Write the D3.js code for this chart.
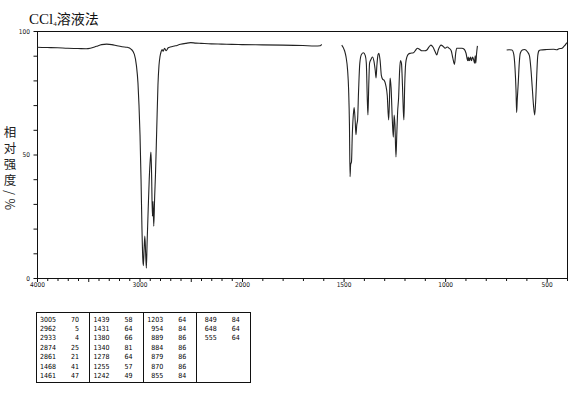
<!DOCTYPE html>
<html><head><meta charset="utf-8">
<script src="https://cdn.jsdelivr.net/npm/d3@7"></script>
<style>body{margin:0;background:#fff}svg{display:block}</style>
</head><body>
<svg id="c" width="570" height="394"></svg>
<script>
// ---- data ----
const seg1Wn = [4000,3900,3800,3700,3600,3520,3480,3420,3370,3320,3270,3220,3170,3120,3080,3050,3030,3015,3005,2995,2985,2976,2968,2962,2955,2948,2940,2933,2926,2915,2905,2895,2888,2882,2874,2868,2861,2852,2844,2832,2820,2810,2800,2790,2780,2770,2755,2740,2720,2700,2650,2600,2550,2500,2450,2400,2300,2200,2100,2000,1900,1800,1700,1640,1615,1608];
const seg1T  = [93.4,93.3,93.2,93.0,92.9,92.8,93.0,93.8,94.5,94.7,94.5,94.0,93.6,93.4,92.6,90.5,86,79,70,58,40,20,8,5,12,17,10,4,14,28,40,48,51,42,25,31,21,33,42,60,78,86,89.6,91.5,92.5,91.8,93,92,93.2,93.5,94,94.6,95,95.3,95.1,95,94.8,94.7,94.6,94.5,94.4,94.3,94.1,93.9,94,94.6];
const seg2Wn = [1509,1495,1488,1480,1475,1471,1468,1465,1461,1457,1452,1448,1443,1439,1435,1431,1426,1420,1412,1402,1393,1388,1383,1380,1376,1372,1365,1358,1350,1344,1340,1336,1330,1326,1320,1314,1308,1300,1292,1285,1278,1274,1271,1266,1260,1255,1251,1247,1242,1238,1234,1229,1224,1220,1215,1210,1206,1203,1199,1194,1188,1180,1170,1156,1145,1136,1125,1115,1100,1090,1080,1070,1060,1049,1041,1033,1020,1010,1000,990,980,970,962,954,948,943,930,918,905,897,889,886,884,881,879,875,870,865,860,855,852,849,845,841];
const seg2T  = [94.3,92,89.6,84,76,62,41,46,47,58,66,69,64,58,62,64,76,87,90.5,91.2,90,87,72,66,78,87,88.5,89.5,87.6,84,81,86,90.5,91,88,82,80.5,80,78,74,64,72,81,77,64,57,66,62,49,58,67,73,84,88,87,78,68,64,78,87,89.5,90.7,91,91.2,92.3,93,92.5,92,92,92.3,93.5,94.3,93.5,91.6,90.3,92.5,94.3,93.8,93,93.5,93,92,89,86.5,91,93,93,93,92.5,91,88,89.5,88,89,88,89.5,88,89.5,88.5,87,90,87,91,94];
const seg3Wn = [697,685,671,662,656,651,648,645,640,635,630,620,610,595,585,578,571,565,559,554,549,544,538,530,500,466,450,440,425,415,409,403,400];
const seg3T  = [92.3,92.4,92.3,90.5,85,76,67,72,79,87,91,92.3,92.5,91.6,90,85,77,70,66,72,82,90,92,92.3,92.5,92.6,92.4,92.8,93,93.8,94.3,95,95.3];

const xLabelTicks = [4000,3000,2000,1500,1000,500];
const yLabelTicks = [0,50,100];

const tableWn  = [3005,2962,2933,2874,2861,1468,1461, 1439,1431,1380,1340,1278,1255,1242, 1203,954,889,884,879,870,855, 849,648,555];
const tableInt = [70,5,4,25,21,41,47, 58,64,66,81,64,57,49, 64,84,86,86,86,86,84, 84,64,64];

// ---- drawing ----
const svg = d3.select("#c");
const x = d3.scaleLinear().domain([4000,2000,400]).range([37,242,567]);
const y = d3.scaleLinear().domain([0,100]).range([278,31]);
const numFont = "'Liberation Sans Narrow','DejaVu Sans Condensed','Liberation Sans',sans-serif";

// title
const title = svg.append("text").attr("x",29).attr("y",24)
  .attr("font-family","'Liberation Serif','Noto Sans CJK SC',serif").attr("font-size",15).attr("fill","#111");
title.append("tspan").text("CCl");
title.append("tspan").attr("font-size",7).attr("dy",1.5).text("4");
title.append("tspan").attr("font-family","'Noto Sans CJK SC',sans-serif").attr("font-size",14).attr("dy",-1.5).text("溶液法");

// y label (vertical writing)
svg.append("text").attr("x",10).attr("y",126)
  .style("writing-mode","vertical-rl").style("letter-spacing","3.5px")
  .attr("font-family","'Noto Sans CJK SC',sans-serif").attr("font-size",12.5).attr("fill","#222")
  .text("相对强度/%");

// frame
svg.append("rect").attr("x",x(4000)).attr("y",y(100)).attr("width",x(400)-x(4000)).attr("height",y(0)-y(100))
  .attr("fill","none").attr("stroke","#111").attr("stroke-width",1).attr("shape-rendering","crispEdges");

// x axis
const xTicks = d3.range(4000,399,-100);
const xAxis = d3.axisBottom(x).tickValues(xTicks).tickSizeOuter(0)
  .tickSize(3).tickFormat(d => xLabelTicks.includes(d) ? d : "");
const gx = svg.append("g").attr("transform",`translate(0,${y(0)})`).call(xAxis);
gx.select(".domain").remove();
gx.selectAll(".tick line").attr("stroke","#111").attr("y2",d => d%500===0 ? 4 : 3);
gx.selectAll(".tick text").attr("font-family",numFont).attr("font-size",6.5).attr("fill","#111").attr("y",4.5);

// y axis
const yAxis = d3.axisLeft(y).tickValues(d3.range(0,101,10)).tickSize(3.5).tickSizeOuter(0)
  .tickFormat(d => yLabelTicks.includes(d) ? d : "");
const gy = svg.append("g").attr("transform",`translate(${x(4000)},0)`).call(yAxis);
gy.select(".domain").remove();
gy.selectAll(".tick line").attr("stroke","#111");
gy.selectAll(".tick text").attr("font-family",numFont).attr("font-size",6.5).attr("fill","#111").attr("x",-7);

// spectrum
const line = d3.line().x(d=>x(d[0])).y(d=>y(d[1])).curve(d3.curveMonotoneX);
const segs = [[seg1Wn,seg1T],[seg2Wn,seg2T],[seg3Wn,seg3T]];
svg.selectAll("path.spec").data(segs).join("path").attr("class","spec")
  .attr("d", s => line(s[0].map((w,i)=>[w,s[1][i]]).reverse()))
  .attr("fill","none").attr("stroke","#222").attr("stroke-width",1.1);

// table
const tLeft = 36, tTop = 312, colW = 53.6, rows = 7, cols = 4, rowH = 9.45;
svg.append("rect").attr("x",tLeft).attr("y",tTop).attr("width",colW*cols).attr("height",70)
  .attr("fill","none").attr("stroke","#111").attr("stroke-width",1).attr("shape-rendering","crispEdges");
svg.selectAll("line.tcol").data(d3.range(1,cols)).join("line").attr("class","tcol")
  .attr("x1",i=>tLeft+i*colW).attr("x2",i=>tLeft+i*colW).attr("y1",tTop).attr("y2",tTop+70)
  .attr("stroke","#111").attr("stroke-width",1).attr("shape-rendering","crispEdges");
const cells = tableWn.map((w,i)=>({w, v:tableInt[i], c:Math.floor(i/rows), r:i%rows}));
const tg = svg.append("g").attr("font-family",numFont).attr("font-size",7).attr("fill","#000");
tg.selectAll("text.tw").data(cells).join("text").attr("class","tw").attr("text-anchor","end")
  .attr("x",d=>tLeft+d.c*colW+20).attr("y",d=>321.5+d.r*rowH).text(d=>d.w);
tg.selectAll("text.tv").data(cells).join("text").attr("class","tv").attr("text-anchor","end")
  .attr("x",d=>tLeft+d.c*colW+43).attr("y",d=>321.5+d.r*rowH).text(d=>d.v);
</script>
</body></html>
